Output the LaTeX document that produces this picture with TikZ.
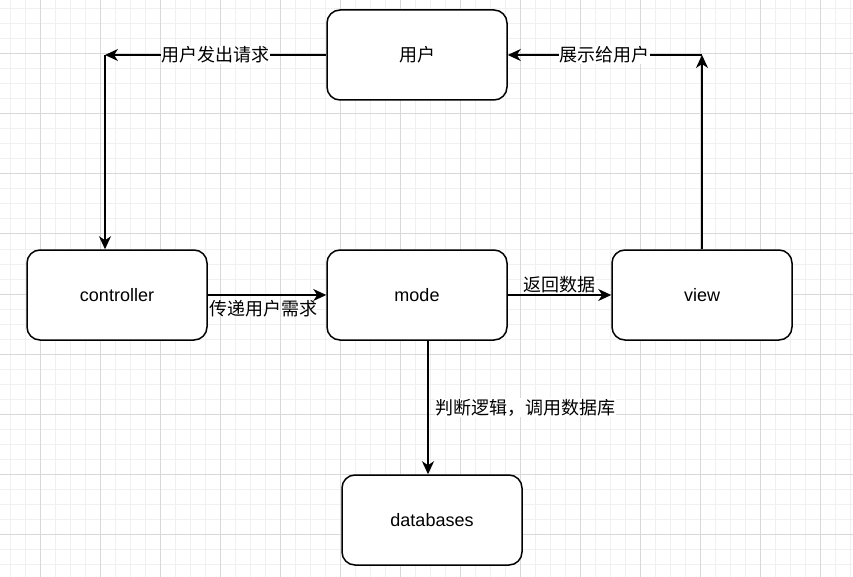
\documentclass[tikz,border=0pt]{standalone}
\usepackage{fontspec}
\setmainfont{Liberation Sans}
\newfontfamily\cjk{Noto Sans CJK SC}
\usetikzlibrary{arrows.meta}
\definecolor{gridminor}{HTML}{F0F0F0}
\definecolor{gridmajor}{HTML}{D8D8D8}
\begin{document}
\begin{tikzpicture}[x=1pt,y=-1pt,
  box/.style={draw=black, fill=white, rounded corners=13pt, minimum width=180pt, minimum height=90pt, line width=1.5pt, font=\fontsize{18}{22}\selectfont},
  edge/.style={draw=black, line width=1.5pt, -{Stealth[length=13pt,width=12pt,inset=4pt]}},
  lbl/.style={fill=white, inner sep=0.5pt, font=\cjk\fontsize{18}{22}\selectfont}]
\useasboundingbox (0,0) rectangle (853,577);
\fill[white] (0,0) rectangle (853,577);
% grid
\foreach \x in {10,25,...,850} \draw[gridminor, line width=1pt] (\x,0) -- (\x,577);
\foreach \y in {9,24,...,577} \draw[gridminor, line width=1pt] (0,\y) -- (853,\y);
\foreach \x in {40,100,...,820} \draw[gridmajor, line width=1pt] (\x,0) -- (\x,577);
\foreach \y in {54,114,...,577} \draw[gridmajor, line width=1pt] (0,\y) -- (853,\y);
% nodes
\node[box, font=\cjk\fontsize{18}{22}\selectfont] (user) at (417,55) {用户};
\node[box] (ctrl) at (117,295) {controller};
\node[box] (mode) at (417,295) {mode};
\node[box] (view) at (702,295) {view};
\node[box] (db) at (432,520) {databases};
\coordinate (tl) at (105,55);
\coordinate (tr) at (702,55);
% edges
\draw[edge] (user.west) -- node[lbl] {用户发出请求} (tl);
\draw[edge] (tl) -- (tl |- ctrl.north);
\draw[edge] (view.north) -- (tr);
\draw[edge] (tr) -- node[lbl] {展示给用户} (user.east);
\draw[edge] (ctrl.east) -- node[lbl, fill=none, pos=0.47, below=4pt] {传递用户需求} (mode.west);
\draw[edge] (mode.east) -- node[lbl, above=1pt] {返回数据} (view.west);
\draw[edge] ([xshift=11pt]mode.south) -- node[lbl, right=6pt] {判断逻辑，调用数据库} ([xshift=-4pt]db.north);
\end{tikzpicture}
\end{document}
